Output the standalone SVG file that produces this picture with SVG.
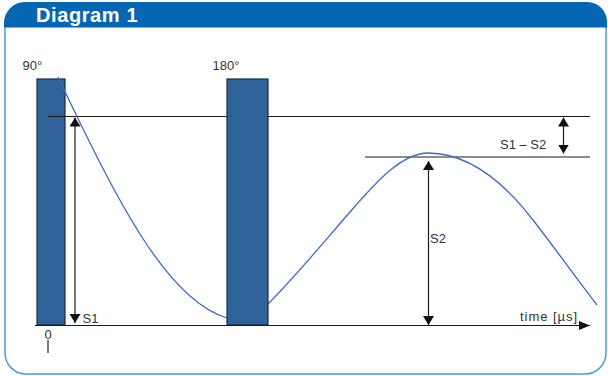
<svg xmlns="http://www.w3.org/2000/svg" width="608" height="376" viewBox="0 0 608 376">
  <defs>
    <marker id="ah" viewBox="0 0 9 11" refX="9" refY="5.5" markerWidth="9" markerHeight="11" markerUnits="userSpaceOnUse" orient="auto-start-reverse">
      <path d="M0,0 L9,5.5 L0,11 Z" fill="#111"/>
    </marker>
    <marker id="ax" viewBox="0 0 11 9" refX="11" refY="4.5" markerWidth="11" markerHeight="9" markerUnits="userSpaceOnUse" orient="auto">
      <path d="M0,0 L11,4.5 L0,9 Z" fill="#111"/>
    </marker>
  </defs>
  <style>
    .lbl { font-family: "Liberation Sans", Arial, sans-serif; font-size: 13px; fill: #333; }
    .title { font-family: "Liberation Sans", Arial, sans-serif; font-size: 20px; font-weight: bold; fill: #fff; letter-spacing: 0.6px; }
    .pulse { fill: #2f6399; stroke: #1c2c40; stroke-width: 1.2; }
    .hline { stroke: #1a1a1a; stroke-width: 1.2; fill: none; }
    .arrow { stroke: #1a1a1a; stroke-width: 1.2; fill: none; }
    .curve { stroke: #3a6cc0; stroke-width: 1.3; fill: none; }
  </style>
  <rect width="608" height="376" fill="#ffffff"/>

  <g id="frame">
    <rect x="5" y="3" width="601" height="371" rx="21" ry="21" fill="none" stroke="#4c9ade" stroke-width="1.5"/>
  </g>
  <g id="header">
    <path d="M4,27.5 V23 A21,21 0 0 1 25,2 H587 A20,20 0 0 1 607,22 V27.5 Z" fill="#0566b3"/>
    <text class="title" x="36" y="22">Diagram 1</text>
  </g>

  <g id="pulse-90">
    <rect class="pulse" x="37" y="79" width="28" height="246"/>
  </g>

  <g id="levels">
    <line class="hline" x1="48" y1="116.5" x2="590" y2="116.5"/>
    <line class="hline" x1="365" y1="157" x2="590" y2="157"/>
  </g>

  <g id="signal">
    <path class="curve" d="M58,77 C118,203 167,300 227,318"/>
    <path class="curve" d="M262,310 L268,304 C295,277 323,243 350,212 C376,182 402,153 428,153 C463,153 498,174.5 533,220 C554,247 576,277.7 597,305"/>
  </g>

  <g id="pulse-180">
    <rect class="pulse" x="227" y="79" width="41" height="246"/>
  </g>

  <g id="connectors">
    <line class="arrow" x1="35" y1="325.5" x2="590" y2="325.5" marker-end="url(#ax)" stroke="#333" stroke-width="1.5"/>
    <line class="arrow" x1="48" y1="340" x2="48" y2="353"/>
    <line class="arrow" x1="75" y1="117.5" x2="75" y2="323" marker-start="url(#ah)" marker-end="url(#ah)"/>
    <line class="arrow" x1="428.5" y1="161" x2="428.5" y2="325" marker-start="url(#ah)" marker-end="url(#ah)"/>
    <line class="arrow" x1="563.5" y1="117.5" x2="563.5" y2="153.5" marker-start="url(#ah)" marker-end="url(#ah)"/>
  </g>

  <g id="labels">
    <text class="lbl" x="22.5" y="69.5">90°</text>
    <text class="lbl" x="212.5" y="69.5">180°</text>
    <text class="lbl" x="82.5" y="322.5">S1</text>
    <text class="lbl" x="430" y="243">S2</text>
    <text class="lbl" x="500" y="148.5">S1 – S2</text>
    <text class="lbl" x="520" y="321" textLength="57" lengthAdjust="spacing">time [µs]</text>
    <text class="lbl" x="48" y="338.5" text-anchor="middle">0</text>
  </g>
</svg>
